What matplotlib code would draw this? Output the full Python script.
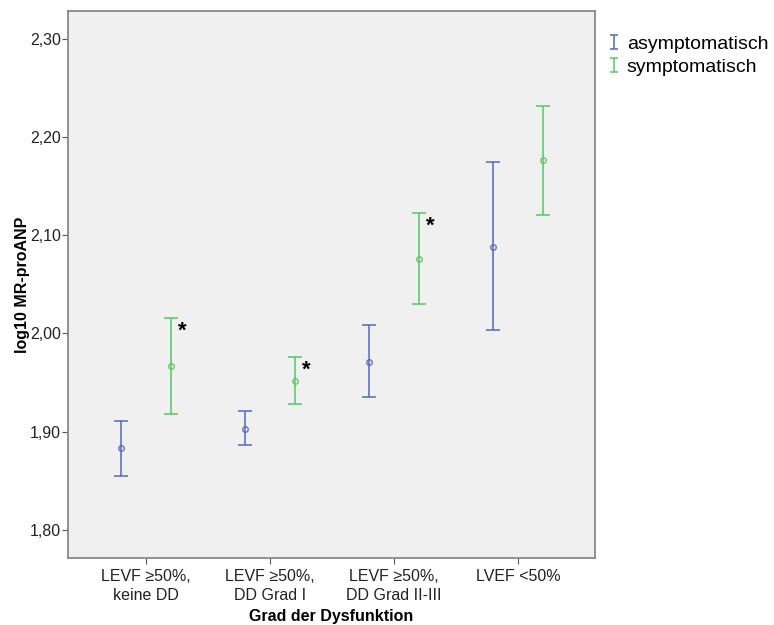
import matplotlib.pyplot as plt
from matplotlib.ticker import FuncFormatter
from matplotlib.legend_handler import HandlerErrorbar
from matplotlib.lines import Line2D

plt.rcParams['font.family'] = ['Liberation Sans', 'DejaVu Sans']

categories = ['LEVF \u226550%,\nkeine DD', 'LEVF \u226550%,\nDD Grad I',
              'LEVF \u226550%,\nDD Grad II-III', 'LVEF <50%']

# asymptomatisch
asym_mean = [1.883, 1.903, 1.971, 2.088]
asym_low = [1.855, 1.886, 1.935, 2.003]
asym_high = [1.911, 1.921, 2.008, 2.174]

# symptomatisch
sym_mean = [1.967, 1.951, 2.076, 2.176]
sym_low = [1.918, 1.928, 2.030, 2.120]
sym_high = [2.016, 1.976, 2.122, 2.231]

# Sterne (signifikant) bei Gruppen
star_groups = [0, 1, 2]

BLUE = '#5468c0'
GREEN = '#55c764'


# kleinere Caps im Legendensymbol
class SmallCaps(HandlerErrorbar):
    def create_artists(self, *args, **kw):
        arts = super().create_artists(*args, **kw)
        for a in arts:
            if isinstance(a, Line2D) and a.get_marker() == '_':
                a.set_markersize(6)
        return arts


fig = plt.figure(figsize=(7.74, 6.25), dpi=100)
ax = fig.add_axes([0.0879, 0.1072, 0.6809, 0.8752])
ax.set_facecolor('#f0f0f0')

x = range(len(categories))
off = 0.2

xa = [i - off for i in x]
xs = [i + off for i in x]
err_a = [[m - l for m, l in zip(asym_mean, asym_low)],
         [h - m for m, h in zip(asym_mean, asym_high)]]
err_s = [[m - l for m, l in zip(sym_mean, sym_low)],
         [h - m for m, h in zip(sym_mean, sym_high)]]

ea = ax.errorbar(xa, asym_mean, yerr=err_a, fmt='none', ecolor=BLUE,
                 elinewidth=1.1, capsize=4.7, capthick=1.1, label='asymptomatisch')
es = ax.errorbar(xs, sym_mean, yerr=err_s, fmt='none', ecolor=GREEN,
                 elinewidth=1.1, capsize=4.7, capthick=1.1, label='symptomatisch')
ax.plot(xa, asym_mean, 'o', ms=4, mfc='none', mec=BLUE, mew=0.9)
ax.plot(xs, sym_mean, 'o', ms=4, mfc='none', mec=GREEN, mew=0.9)

for g in star_groups:
    ax.text(xs[g] + 0.095, sym_high[g] - 0.0135, '*', fontsize=16,
            fontweight='bold', ha='center', va='center', color='black')

ax.set_xlim(-0.626, 3.618)
ax.set_ylim(1.7714, 2.328)
ax.set_xticks(list(x))
ax.set_xticklabels(categories, fontsize=11.5, color='#222222', linespacing=1.35)
ax.set_yticks([1.8, 1.9, 2.0, 2.1, 2.2, 2.3])
ax.yaxis.set_major_formatter(FuncFormatter(lambda v, p: f'{v:.2f}'.replace('.', ',')))
ax.tick_params(axis='y', labelsize=11.5, colors='#222222', length=4, color='#555555', pad=1)
ax.tick_params(axis='x', length=4, color='#555555', pad=4)

for s in ax.spines.values():
    s.set_color('#888888')
    s.set_linewidth(1.3)

ax.set_xlabel('Grad der Dysfunktion', fontsize=11.5, fontweight='bold')
ax.set_ylabel('log10 MR-proANP', fontsize=11.5, fontweight='bold')
ax.xaxis.set_label_coords(0.5, -0.093)
ax.yaxis.set_label_coords(-0.072, 0.5)

leg = fig.legend(handles=[ea, es], loc='upper left', bbox_to_anchor=(0.777, 0.9556),
                 frameon=False, fontsize=14, handlelength=0.5, handletextpad=0.4,
                 labelspacing=0.245, borderaxespad=0,
                 handler_map={ea: SmallCaps(yerr_size=0.36), es: SmallCaps(yerr_size=0.36)})

fig.savefig('out.png', dpi=100)
